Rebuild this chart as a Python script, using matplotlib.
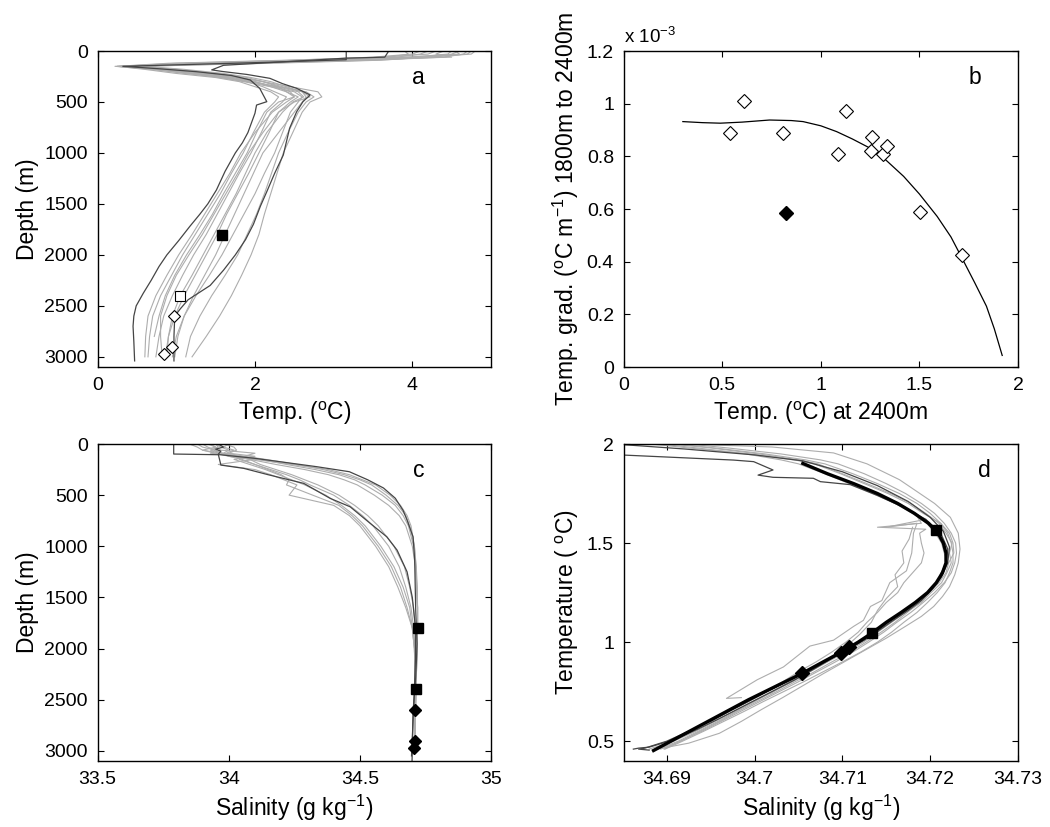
import matplotlib.pyplot as plt
import numpy as np
from matplotlib.ticker import FuncFormatter

plt.rcParams['font.family'] = ['Liberation Sans', 'DejaVu Sans']
plt.rcParams['mathtext.fontset'] = 'custom'
plt.rcParams['mathtext.rm'] = 'Liberation Sans'
plt.rcParams['mathtext.it'] = 'Liberation Sans:italic'
plt.rcParams['mathtext.bf'] = 'Liberation Sans:bold'

LIGHT = '#adadad'
DARK = '#454545'

# ---------------- panel a: temperature profiles ----------------
a_depth = [0, 30, 60, 90, 120, 150, 180, 220, 260, 300, 350, 400, 450, 500, 600, 800,
           1000, 1200, 1400, 1600, 1800, 2000, 2200, 2400, 2600, 2800, 3000]
a_gray_temp = [
    [4.75, 4.70, 4.10, 3.30, 1.60, 0.25, 0.80, 1.30, 1.80, 2.10, 2.45, 2.80, 2.85, 2.70, 2.60, 2.48,
     2.36, 2.28, 2.20, 2.12, 2.05, 1.95, 1.83, 1.70, 1.55, 1.38, 1.20],
    [4.55, 4.60, 3.90, 2.80, 1.20, 0.22, 0.70, 1.10, 1.60, 1.90, 2.30, 2.65, 2.75, 2.65, 2.55, 2.42,
     2.30, 2.21, 2.12, 2.02, 1.90, 1.78, 1.62, 1.45, 1.30, 1.18, 1.12],
    [4.40, 4.30, 4.50, 3.10, 1.40, 0.35, 0.90, 1.40, 1.75, 2.00, 2.20, 2.50, 2.60, 2.55, 2.45, 2.35,
     2.25, 2.12, 2.00, 1.86, 1.72, 1.58, 1.42, 1.25, 1.10, 1.00, 0.95],
    [4.80, 4.75, 4.20, 3.60, 2.20, 0.45, 1.00, 1.50, 1.90, 2.10, 2.30, 2.40, 2.55, 2.45, 2.30, 2.18,
     2.05, 1.92, 1.78, 1.64, 1.52, 1.38, 1.24, 1.10, 0.98, 0.90, 0.86],
    [4.20, 4.10, 3.80, 2.60, 1.00, 0.30, 0.80, 1.20, 1.60, 1.90, 2.10, 2.25, 2.40, 2.35, 2.20, 2.08,
     1.95, 1.80, 1.66, 1.52, 1.38, 1.22, 1.08, 0.95, 0.84, 0.78, 0.74],
    [3.90, 3.95, 3.70, 2.40, 0.90, 0.25, 0.60, 1.00, 1.50, 1.80, 2.00, 2.20, 2.30, 2.25, 2.12, 1.98,
     1.85, 1.70, 1.56, 1.40, 1.24, 1.08, 0.94, 0.80, 0.70, 0.66, 0.64],
    [4.60, 4.50, 4.30, 3.40, 1.80, 0.40, 0.90, 1.30, 1.70, 2.00, 2.25, 2.45, 2.50, 2.40, 2.22, 2.00,
     1.82, 1.68, 1.52, 1.36, 1.20, 1.03, 0.88, 0.74, 0.64, 0.61, 0.60],
    [4.30, 4.20, 3.60, 2.90, 1.50, 0.50, 1.00, 1.50, 1.80, 2.10, 2.35, 2.60, 2.70, 2.50, 2.30, 2.10,
     1.92, 1.78, 1.63, 1.48, 1.33, 1.16, 1.00, 0.88, 0.80, 0.80, 0.82],
    [4.70, 4.65, 4.40, 3.50, 2.00, 0.60, 1.10, 1.60, 1.95, 2.20, 2.40, 2.60, 2.65, 2.60, 2.50, 2.30,
     2.10, 1.98, 1.86, 1.74, 1.62, 1.50, 1.36, 1.22, 1.10, 1.02, 0.98],
    [4.10, 4.00, 3.50, 2.50, 1.20, 0.30, 0.70, 1.20, 1.55, 1.85, 2.20, 2.40, 2.50, 2.30, 2.15, 2.02,
     1.90, 1.75, 1.60, 1.46, 1.30, 1.13, 0.98, 0.86, 0.78, 0.72, np.nan],
    [4.50, 4.45, 4.00, 3.00, 1.30, 0.28, 0.75, 1.25, 1.65, 1.95, 2.28, 2.55, 2.62, 2.48, 2.35, 2.15,
     2.00, 1.88, 1.76, 1.62, 1.48, 1.34, 1.20, 1.05, 0.95, 0.90, 0.88],
]
a_dark1_temp = [3.16, 3.16, 2.20, 0.32, 0.80, 1.26, 1.70, 1.94, 2.06, 2.15, 2.02, 2.00, 1.91, 1.84,
                1.75, 1.62, 1.51, 1.40, 1.30, 1.17, 1.03, 0.88, 0.78, 0.68, 0.58, 0.49, 0.46,
                0.45, 0.46, 0.47]
a_dark1_depth = [0, 85, 110, 150, 175, 203, 240, 284, 366, 497, 530, 610, 800, 900,
                 1000, 1180, 1363, 1500, 1600, 1722, 1860, 2000, 2114, 2250, 2376, 2500, 2600,
                 2700, 2850, 3040]
a_dark2_temp = [3.70, 3.65, 3.16, 1.60, 1.45, 1.58, 1.90, 2.19, 2.35, 2.53, 2.70, 2.61, 2.53, 2.44,
                2.36, 2.25, 2.15, 2.07, 1.98, 1.88, 1.75, 1.60, 1.43, 1.15, 1.05, 0.98, 0.97,
                0.97]
a_dark2_depth = [0, 60, 70, 140, 185, 200, 230, 268, 320, 366, 431, 497, 595, 758,
                 1020, 1200, 1380, 1520, 1700, 1850, 2000, 2150, 2300, 2440, 2530, 2600, 2800,
                 3040]
a_fill_sq_temp, a_fill_sq_depth = [1.58], [1800]
a_open_sq_temp, a_open_sq_depth = [1.05], [2400]
a_dia_temp = [0.97, 0.94, 0.84]
a_dia_depth = [2600, 2900, 2975]

# ---------------- panel b: gradient vs temperature at 2400 m ----------------
b_temp = [0.539, 0.612, 0.810, 1.089, 1.128, 1.258, 1.253, 1.314, 1.334, 1.503, 1.714]
b_grad = [0.888, 1.012, 0.889, 0.808, 0.973, 0.875, 0.822, 0.810, 0.840, 0.587, 0.426]  # x 1e-3
b_fill_temp = [0.822]
b_fill_grad = [0.585]
b_fit_temp = [0.30, 0.40, 0.49, 0.60, 0.74, 0.85, 0.91, 1.00, 1.08, 1.16, 1.25, 1.33, 1.42,
              1.50, 1.59, 1.66, 1.72, 1.78, 1.84, 1.88, 1.92]
b_fit_grad = [0.932, 0.928, 0.926, 0.930, 0.938, 0.936, 0.932, 0.916, 0.894, 0.866, 0.831,
              0.786, 0.724, 0.657, 0.572, 0.494, 0.408, 0.321, 0.231, 0.145, 0.044]

# ---------------- panel c: salinity profiles ----------------
c_depth = [0, 30, 60, 90, 120, 150, 200, 250, 300, 350, 400, 500, 600, 700, 800,
           1000, 1200, 1400, 1600, 1800, 2000, 2200, 2400, 2600, 2800, 3000]
c_gray_sal = [
    [33.95, 33.96, 33.93, 33.98, 34.02, 34.10, 34.24, 34.38, 34.46, 34.51, 34.56, 34.615, 34.655,
     34.68, 34.695, 34.708, 34.714, 34.717, 34.72, 34.72, 34.718, 34.716, 34.714, 34.712, 34.71, 34.71],
    [33.90, 33.92, 33.95, 33.97, 34.03, 34.12, 34.22, 34.33, 34.42, 34.48, 34.52, 34.585, 34.635,
     34.665, 34.685, 34.705, 34.713, 34.717, 34.72, 34.72, 34.718, 34.716, 34.714, 34.712, 34.71, 34.708],
    [34.00, 33.98, 34.02, 33.99, 34.06, 34.14, 34.26, 34.36, 34.44, 34.50, 34.545, 34.60, 34.645,
     34.675, 34.69, 34.708, 34.715, 34.719, 34.72, 34.72, 34.718, 34.716, 34.714, 34.712, 34.711, 34.71],
    [33.85, 33.88, 33.90, 33.95, 34.00, 34.08, 34.18, 34.29, 34.38, 34.44, 34.49, 34.555, 34.61,
     34.65, 34.675, 34.70, 34.712, 34.716, 34.72, 34.72, 34.718, 34.716, 34.714, 34.712, 34.71, 34.708],
    [33.92, 33.95, 33.90, 33.97, 34.00, 34.05, 34.10, 34.16, 34.22, 34.27, 34.31, 34.40, 34.46,
     34.51, 34.55, 34.61, 34.65, 34.675, 34.695, 34.705, 34.71, 34.71, 34.71, 34.71, 34.709, 34.708],
    [33.98, 34.02, 34.03, 34.00, 34.10, 34.02, 34.08, 34.14, 34.19, 34.24, 34.29, 34.37, 34.43,
     34.48, 34.52, 34.58, 34.63, 34.665, 34.69, 34.70, 34.708, 34.71, 34.71, 34.71, 34.709, 34.708],
    [33.88, 33.90, 33.95, 33.93, 34.05, 34.10, 33.96, 34.10, 34.16, 34.21, 34.26, 34.23, 34.40,
     34.46, 34.50, 34.56, 34.61, 34.645, 34.675, 34.70, 34.708, 34.71, 34.71, 34.71, 34.709, 34.708],
    [33.95, 33.97, 34.00, 33.98, 34.03, 34.08, 34.12, 34.18, 34.24, 34.29, 34.34, 34.42, 34.48,
     34.53, 34.57, 34.63, 34.67, 34.69, 34.705, 34.712, 34.714, 34.713, 34.712, 34.711, 34.71, 34.71],
    [33.93, 33.95, 33.97, 34.10, 34.06, 34.04, 34.10, 34.15, 34.20, 34.23, 34.22, 34.32, 34.42,
     34.47, 34.51, 34.57, 34.62, 34.655, 34.68, 34.70, 34.708, 34.71, 34.71, 34.71, 34.709, 34.707],
]
c_dark1_sal = [33.79, 33.79, 33.968, 34.10, 34.336, 34.46, 34.53, 34.59, 34.635, 34.665, 34.68,
               34.703, 34.709, 34.713, 34.718, 34.716, 34.713, 34.708, 34.703, 34.699]
c_dark1_depth = [0, 98, 105, 140, 222, 271, 350, 430, 530, 650, 744, 908, 1136, 1626, 1952,
                 2100, 2279, 2450, 2605, 3095]
c_dark2_sal = [33.96, 33.98, 33.95, 33.97, 33.96, 33.97, 34.057, 34.15, 34.286, 34.387, 34.463,
               34.54, 34.603, 34.642, 34.68, 34.70, 34.712, 34.712, 34.708, 34.703, 34.697]
c_dark2_depth = [0, 30, 50, 70, 100, 206, 238, 300, 385, 532, 614, 777, 908, 1038, 1250, 1500,
                 1800, 2100, 2400, 2700, 3050]
c_sq_sal, c_sq_depth = [34.721, 34.714], [1800, 2400]
c_dia_sal, c_dia_depth = [34.710, 34.709, 34.705], [2600, 2900, 2975]

# ---------------- panel d: T-S diagram ----------------
d_temp = [2.02, 1.98, 1.95, 1.92, 1.90, 1.85, 1.80, 1.75, 1.70, 1.65, 1.60, 1.55, 1.50, 1.45,
          1.40, 1.35, 1.30, 1.25, 1.20, 1.15, 1.10, 1.05, 1.00, 0.95, 0.90, 0.85, 0.80, 0.75,
          0.70, 0.65, 0.60, 0.55, 0.50, 0.46]
d_gray_sal = [
    [34.688, 34.697, 34.703, 34.7075, 34.7095, 34.7125, 34.7150, 34.7172, 34.7190, 34.7205,
     34.7216, 34.7224, 34.7229, 34.7230, 34.7228, 34.7224, 34.7216, 34.7205, 34.7192, 34.7178,
     34.7162, 34.7147, 34.7130, 34.7112, 34.7092, 34.7071, 34.7050, 34.7028, 34.7006, 34.6984,
     34.6962, 34.6940, 34.6915, 34.6897],
    [34.686, 34.695, 34.7005, 34.7050, 34.7072, 34.7100, 34.7128, 34.7155, 34.7178, 34.7195,
     34.7210, 34.7218, 34.7225, 34.7222, 34.7224, 34.7219, 34.7213, 34.7201, 34.7190, 34.7172,
     34.7156, 34.7140, 34.7124, 34.7104, 34.7083, 34.7063, 34.7043, 34.7021, 34.7000, 34.6979,
     34.6958, 34.6936, 34.6913, 34.6890],
    [34.685, 34.6935, 34.699, 34.7030, 34.7050, 34.7080, 34.7108, 34.7135, 34.7160, 34.7180,
     34.7196, 34.7206, 34.7213, 34.7216, 34.7220, 34.7212, 34.7209, 34.7198, 34.7186, 34.7170,
     34.7153, 34.7138, 34.7120, 34.7102, 34.7082, 34.7062, 34.7041, 34.7020, 34.6998, 34.6977,
     34.6955, 34.6933, 34.6908, 34.6880],
    [34.684, 34.6925, 34.6995, 34.7045, 34.7068, 34.7098, 34.7125, 34.7152, 34.7175, 34.7192,
     34.7212, 34.7222, 34.7226, 34.7227, 34.7221, 34.7218, 34.7210, 34.7199, 34.7188, 34.7174,
     34.7160, 34.7144, 34.7127, 34.7109, 34.7088, 34.7068, 34.7046, 34.7025, 34.7003, 34.6981,
     34.6960, 34.6938, 34.6916, 34.6893],
    [34.687, 34.6955, 34.7012, 34.7058, 34.7080, 34.7112, 34.7140, 34.7165, 34.7185, 34.7200,
     34.7212, 34.7220, 34.7224, 34.7226, 34.7226, 34.7222, 34.7217, 34.7208, 34.7197, 34.7185,
     34.7170, 34.7156, 34.7140, 34.7121, 34.7100, 34.7078, 34.7056, 34.7033, 34.7010, 34.6988,
     34.6965, 34.6942, 34.6918, 34.6898],
]
d_light1_temp = [1.62, 1.58, 1.60, 1.55, 1.45, 1.36, 1.30, 1.21, 1.18, 1.11, 1.08, 1.01, 0.98,
                 0.875, 0.81, 0.716, 0.72]
d_light1_sal = [34.7195, 34.7150, 34.7185, 34.7181, 34.7179, 34.7173, 34.7154, 34.7145, 34.7132,
                34.7124, 34.7113, 34.7090, 34.7063, 34.7033, 34.7003, 34.6968, 34.6985]
d_light2_temp = [1.70, 1.65, 1.60, 1.58, 1.57, 1.55, 1.50, 1.45, 1.40, 1.35, 1.30, 1.25, 1.20,
                 1.15, 1.10, 1.05, 1.00, 0.95, 0.90, 0.85, 0.80, 0.75, 0.70, 0.65, 0.60]
d_light2_sal = [34.7165, 34.7183, 34.7190, 34.7140, 34.7195, 34.7188, 34.7190, 34.7193, 34.7190,
                34.7180, 34.7170, 34.7163, 34.7150, 34.7140, 34.7128, 34.7118, 34.7104, 34.7088,
                34.7070, 34.7050, 34.7032, 34.7012, 34.6990, 34.6970, 34.6950]
d_light3_temp = [2.01, 1.995, 1.985, 1.955, 1.90, 1.82, 1.76, 1.70, 1.63, 1.55, 1.47, 1.40,
                 1.34, 1.28, 1.23, 1.18, 1.13, 1.08, 1.02, 0.96, 0.90, 0.84, 0.78, 0.72, 0.66,
                 0.60, 0.54, 0.49, 0.465]
d_light3_sal = [34.6850, 34.6953, 34.7020, 34.7090, 34.7128, 34.7165, 34.7185, 34.7205, 34.7223,
                34.7232, 34.7234, 34.7232, 34.7228, 34.7222, 34.7214, 34.7204, 34.7190, 34.7172,
                34.7150, 34.7126, 34.7102, 34.7078, 34.7055, 34.7032, 34.7008, 34.6985, 34.6960,
                34.6925, 34.6895]
d_light4_temp = [1.58, 1.52, 1.46, 1.40, 1.34, 1.28, 1.22, 1.16, 1.10, 1.04, 0.98, 0.92, 0.86,
                 0.80, 0.74]
d_light4_sal = [34.7180, 34.7176, 34.7168, 34.7170, 34.7160, 34.7163, 34.7150, 34.7140, 34.7133,
                34.7120, 34.7105, 34.7085, 34.7062, 34.7040, 34.7018]
d_dark1_temp = [1.945, 1.944, 1.919, 1.911, 1.869, 1.843, 1.832, 1.827, 1.810, 1.795, 1.74,
                1.68, 1.62, 1.55, 1.47, 1.40, 1.32, 1.26, 1.20, 1.15, 1.10, 1.05, 1.00, 0.95,
                0.90, 0.85, 0.80, 0.75, 0.70, 0.65, 0.60, 0.55, 0.50, 0.465, 0.46, 0.455]
d_dark1_sal = [34.684, 34.6852, 34.6976, 34.6999, 34.7021, 34.7004, 34.7021, 34.7067, 34.7075,
               34.7109, 34.7140, 34.7170, 34.7195, 34.7212, 34.7220, 34.7218, 34.7210, 34.7200,
               34.7185, 34.7170, 34.7152, 34.7138, 34.7120, 34.7100, 34.7080, 34.7058, 34.7036,
               34.7014, 34.6993, 34.6971, 34.6950, 34.6925, 34.6900, 34.6875, 34.6868, 34.6880]
d_dark2_temp = [2.00, 1.975, 1.945, 1.915, 1.86, 1.79, 1.71, 1.63, 1.56, 1.48, 1.40, 1.33,
                1.27, 1.21, 1.16, 1.11, 1.06, 1.01, 0.96, 0.91, 0.86, 0.81, 0.76, 0.71, 0.66,
                0.61, 0.56, 0.51, 0.47, 0.465, 0.46]
d_dark2_sal = [34.684, 34.692, 34.700, 34.7055, 34.7100, 34.7140, 34.7175, 34.7200, 34.7215,
               34.7222, 34.7220, 34.7213, 34.7203, 34.7190, 34.7175, 34.7158, 34.7142, 34.7125,
               34.7105, 34.7085, 34.7066, 34.7046, 34.7024, 34.7002, 34.6980, 34.6958, 34.6935,
               34.6910, 34.6880, 34.6868, 34.6862]
d_fit_temp = [1.902, 1.85, 1.80, 1.75, 1.70, 1.65, 1.60, 1.55, 1.50, 1.45, 1.40, 1.35, 1.30,
              1.25, 1.20, 1.15, 1.10, 1.044, 1.00, 0.95, 0.90, 0.842, 0.709, 0.574, 0.453]
d_fit_sal = [34.7055, 34.7083, 34.7113, 34.7140, 34.7163, 34.7182, 34.7198, 34.7209, 34.7215,
             34.7218, 34.7218, 34.7214, 34.7207, 34.7197, 34.7183, 34.7167, 34.7150, 34.7133,
             34.7118, 34.7099, 34.7078, 34.7054, 34.6993, 34.6936, 34.6885]
d_sq_sal, d_sq_temp = [34.7207, 34.7134], [1.566, 1.044]
d_dia_sal, d_dia_temp = [34.7054, 34.7098, 34.7108], [0.842, 0.946, 0.973]


def fmt(v, pos):
    return '%g' % round(v, 6)


def style(ax):
    ax.tick_params(direction='in', top=True, right=True, length=4, width=0.8,
                   labelsize=14, pad=7)
    for s in ax.spines.values():
        s.set_linewidth(1.0)
    ax.xaxis.set_major_formatter(FuncFormatter(fmt))
    ax.yaxis.set_major_formatter(FuncFormatter(fmt))


fig = plt.figure(figsize=(10.5, 8.27), dpi=100)
ax_a = fig.add_axes([0.093, 0.5562, 0.3746, 0.3821])
ax_b = fig.add_axes([0.594, 0.5562, 0.3755, 0.3821])
ax_c = fig.add_axes([0.093, 0.0798, 0.3746, 0.3833])
ax_d = fig.add_axes([0.594, 0.0798, 0.3755, 0.3833])

# panel a
for t in a_gray_temp:
    ax_a.plot(t, a_depth, color=LIGHT, lw=0.8)
ax_a.plot(a_dark1_temp, a_dark1_depth, color=DARK, lw=0.9)
ax_a.plot(a_dark2_temp, a_dark2_depth, color=DARK, lw=0.9)
ax_a.plot(a_fill_sq_temp, a_fill_sq_depth, 's', mfc='k', mec='k', ms=7)
ax_a.plot(a_open_sq_temp, a_open_sq_depth, 's', mfc='w', mec='k', ms=7, mew=0.8)
ax_a.plot(a_dia_temp, a_dia_depth, 'D', mfc='w', mec='k', ms=6.5, mew=0.8)
ax_a.set_xlim(0, 5)
ax_a.set_ylim(3100, 0)
ax_a.set_xticks([0, 2, 4])
ax_a.set_yticks(range(0, 3001, 500))
ax_a.set_xlabel(r'Temp. ($^{\mathrm{o}}$C)', fontsize=16.5)
ax_a.set_ylabel('Depth (m)', fontsize=16.5)
ax_a.text(0.816, 0.915, 'a', transform=ax_a.transAxes, fontsize=16.5, ha='center', va='center')
style(ax_a)

# panel b
ax_b.plot(b_fit_temp, b_fit_grad, color='k', lw=0.9)
ax_b.plot(b_temp, b_grad, 'D', mfc='w', mec='k', ms=7.5, mew=0.8, ls='none')
ax_b.plot(b_fill_temp, b_fill_grad, 'D', mfc='k', mec='k', ms=7.5, ls='none')
ax_b.set_xlim(0, 2)
ax_b.set_ylim(0, 1.2)
ax_b.set_xticks([0, 0.5, 1, 1.5, 2])
ax_b.set_yticks([0, 0.2, 0.4, 0.6, 0.8, 1.0, 1.2])
ax_b.set_xlabel(r'Temp. ($^{\mathrm{o}}$C) at 2400m', fontsize=16.5)
ax_b.set_ylabel(r'Temp. grad. ($^{\mathrm{o}}$C m$^{-1}$) 1800m to 2400m', fontsize=16.5)
ax_b.text(0.0, 1.012, r'x 10$^{-3}$', transform=ax_b.transAxes, fontsize=13.5,
          ha='left', va='bottom')
ax_b.text(0.891, 0.915, 'b', transform=ax_b.transAxes, fontsize=16.5, ha='center', va='center')
style(ax_b)

# panel c
for s in c_gray_sal:
    ax_c.plot(s, c_depth, color=LIGHT, lw=0.8)
ax_c.plot(c_dark1_sal, c_dark1_depth, color=DARK, lw=0.9)
ax_c.plot(c_dark2_sal, c_dark2_depth, color=DARK, lw=0.9)
ax_c.plot(c_sq_sal, c_sq_depth, 's', mfc='k', mec='k', ms=7)
ax_c.plot(c_dia_sal, c_dia_depth, 'D', mfc='k', mec='k', ms=6.5)
ax_c.set_xlim(33.5, 35)
ax_c.set_ylim(3100, 0)
ax_c.set_xticks([33.5, 34, 34.5, 35])
ax_c.set_yticks(range(0, 3001, 500))
ax_c.set_xlabel(r'Salinity (g kg$^{-1}$)', fontsize=16.5)
ax_c.set_ylabel('Depth (m)', fontsize=16.5)
ax_c.text(0.816, 0.915, 'c', transform=ax_c.transAxes, fontsize=16.5, ha='center', va='center')
style(ax_c)

# panel d
for s in d_gray_sal:
    ax_d.plot(s, d_temp, color=LIGHT, lw=0.8)
for s, t in [(d_light1_sal, d_light1_temp), (d_light2_sal, d_light2_temp),
             (d_light3_sal, d_light3_temp), (d_light4_sal, d_light4_temp)]:
    ax_d.plot(s, t, color=LIGHT, lw=0.8)
ax_d.plot(d_dark1_sal, d_dark1_temp, color=DARK, lw=0.9)
ax_d.plot(d_dark2_sal, d_dark2_temp, color=DARK, lw=0.9)
ax_d.plot(d_fit_sal, d_fit_temp, color='k', lw=2.4)
ax_d.plot(d_sq_sal, d_sq_temp, 's', mfc='k', mec='k', ms=7)
ax_d.plot(d_dia_sal, d_dia_temp, 'D', mfc='k', mec='k', ms=7)
ax_d.set_xlim(34.6851, 34.73)
ax_d.set_ylim(0.4, 2.0)
ax_d.set_xticks([34.69, 34.70, 34.71, 34.72, 34.73])
ax_d.set_yticks([0.5, 1, 1.5, 2])
ax_d.set_xlabel(r'Salinity (g kg$^{-1}$)', fontsize=16.5)
ax_d.set_ylabel(r'Temperature ( $^{\mathrm{o}}$C)', fontsize=16.5)
ax_d.text(0.914, 0.915, 'd', transform=ax_d.transAxes, fontsize=16.5, ha='center', va='center')
style(ax_d)

fig.savefig('out.png', dpi=100)
